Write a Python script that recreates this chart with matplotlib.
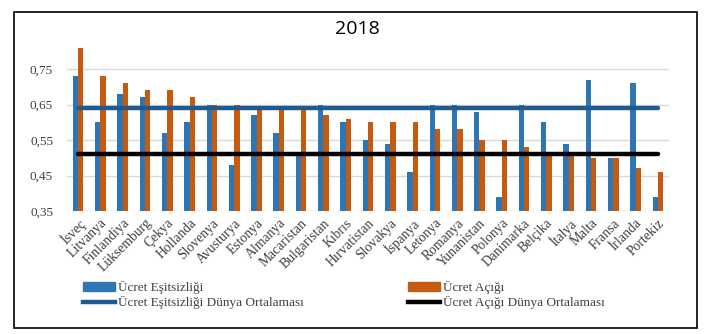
import numpy as np
import matplotlib
matplotlib.use("Agg")
import matplotlib.pyplot as plt
from matplotlib.patches import Rectangle, Patch
from matplotlib.lines import Line2D

# 2018 values per country
countries = ["İsveç", "Litvanya", "Finlandiya", "Lüksemburg", "Çekya", "Hollanda",
             "Slovenya", "Avusturya", "Estonya", "Almanya", "Macaristan",
             "Bulgaristan", "Kıbrıs", "Hırvatistan", "Slovakya", "İspanya",
             "Letonya", "Romanya", "Yunanistan", "Polonya", "Danimarka",
             "Belçika", "İtalya", "Malta", "Fransa", "İrlanda", "Portekiz"]
ucret_esitsizligi = [0.73, 0.60, 0.68, 0.67, 0.57, 0.60, 0.65, 0.48, 0.62, 0.57,
                     0.51, 0.65, 0.60, 0.55, 0.54, 0.46, 0.65, 0.65, 0.63, 0.39,
                     0.65, 0.60, 0.54, 0.72, 0.50, 0.71, 0.39]
ucret_acigi = [0.81, 0.73, 0.71, 0.69, 0.69, 0.67, 0.65, 0.65, 0.64, 0.64,
               0.64, 0.62, 0.61, 0.60, 0.60, 0.60, 0.58, 0.58, 0.55, 0.55,
               0.53, 0.51, 0.51, 0.50, 0.50, 0.47, 0.46]
esitsizlik_ortalama = 0.64
acik_ortalama = 0.51
yticks = [0.35, 0.45, 0.55, 0.65, 0.75]

BLUE = "#2e75b6"
ORANGE = "#c55a11"
DARKBLUE = "#215a8c"

W, H = 705, 334
fig = plt.figure(figsize=(W / 100, H / 100), dpi=100)

def px(x0, y0, x1, y1):
    # pixel box (top-left origin) -> figure fraction rect
    return [x0 / W, 1 - y1 / H, (x1 - x0) / W, (y1 - y0) / H]

# chart border
fig.patches.append(Rectangle((14 / W, 1 - 328 / H), 683 / W, 316 / H,
                             transform=fig.transFigure, fill=False,
                             edgecolor="black", linewidth=1.2))

ax = fig.add_axes(px(67, 33.5, 669, 211))
x = np.arange(len(countries))
bw = 0.24
ax.bar(x - bw / 2, ucret_esitsizligi, width=bw, color=BLUE, zorder=2)
ax.bar(x + bw / 2, ucret_acigi, width=bw, color=ORANGE, zorder=2)
ax.plot([x[0], x[-1]], [esitsizlik_ortalama] * 2, color=DARKBLUE, lw=3.2,
        solid_capstyle="round", zorder=3)
ax.plot([x[0], x[-1]], [acik_ortalama] * 2, color="black", lw=3.2,
        solid_capstyle="round", zorder=3)

ax.set_xlim(-0.5, len(countries) - 0.5)
ax.set_ylim(0.35, 0.85)
ax.set_yticks(yticks)
ax.set_yticklabels([f"{v:.2f}".replace(".", ",") for v in yticks],
                   family="Liberation Serif", fontsize=9.5, color="#404040")
ax.set_xticks(x)
ax.set_xticklabels(countries, rotation=45, ha="right", rotation_mode="anchor",
                   family="Liberation Serif", fontsize=9.8, color="#404040")
ax.tick_params(length=0)
ax.tick_params(axis="y", pad=10)
ax.tick_params(axis="x", pad=4)
for s in ax.spines.values():
    s.set_visible(False)
ax.grid(axis="y", color="#d9d9d9", lw=1, zorder=0)

fig.text(357 / W, 1 - 29 / H, "2018", ha="center", va="center",
         family="Open Sans", fontsize=14)

leg_font = {"family": "Liberation Serif", "size": 9.5}
h1 = [Patch(color=BLUE), Line2D([], [], color=DARKBLUE, lw=3.2)]
h2 = [Patch(color=ORANGE), Line2D([], [], color="black", lw=3.2)]
for handles, labels, xpos in [
        (h1, ["Ücret Eşitsizliği", "Ücret Eşitsizliği Dünya Ortalaması"], 83),
        (h2, ["Ücret Açığı", "Ücret Açığı Dünya Ortalaması"], 408)]:
    fig.legend(handles, labels, loc="upper left",
               bbox_to_anchor=(xpos / W, 1 - 281 / H), frameon=False,
               prop=leg_font, handlelength=2.4, handleheight=0.6,
               handletextpad=0.25, labelspacing=0.15, borderpad=0,
               borderaxespad=0, labelcolor="#404040")

fig.savefig("out.png", dpi=100)
